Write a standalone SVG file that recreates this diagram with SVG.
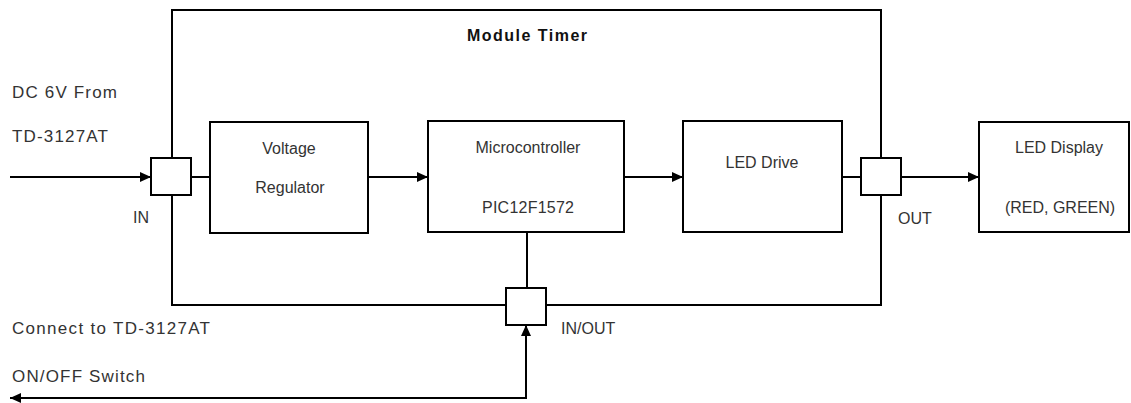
<svg xmlns="http://www.w3.org/2000/svg" width="1131" height="403" viewBox="0 0 1131 403">
<style>
.box{fill:#fff;stroke:#000;stroke-width:2}
.ln{fill:none;stroke:#000;stroke-width:2}
.t{font-family:"Liberation Sans",Arial,sans-serif;font-size:16px;fill:#333}
.l{font-size:17px}
.c{text-anchor:middle}
.b{font-weight:bold;fill:#111;font-size:16px}
</style>
<defs>
<marker id="ah" markerUnits="userSpaceOnUse" markerWidth="12" markerHeight="10" refX="11" refY="5" orient="auto">
<path d="M0,0 L11,5 L0,10 Z" fill="#000"/>
</marker>
</defs>
<rect width="1131" height="403" fill="#fff"/>
<g id="module">
<rect class="box" x="172" y="10" width="709" height="295" fill="none"/>
<text class="t b" x="467" y="41" textLength="120" lengthAdjust="spacing">Module Timer</text>
</g>
<g id="connectors">
<line class="ln" x1="10" y1="177" x2="151" y2="177" marker-end="url(#ah)"/>
<line class="ln" x1="191" y1="177" x2="210" y2="177"/>
<line class="ln" x1="368" y1="177" x2="428" y2="177" marker-end="url(#ah)"/>
<line class="ln" x1="624" y1="177" x2="683" y2="177" marker-end="url(#ah)"/>
<line class="ln" x1="842" y1="177" x2="861" y2="177"/>
<line class="ln" x1="901" y1="177" x2="979" y2="177" marker-end="url(#ah)"/>
<line class="ln" x1="527" y1="232" x2="527" y2="288"/>
<polyline class="ln" points="526,398 526,325" marker-end="url(#ah)"/>
<line class="ln" x1="527" y1="398" x2="10" y2="398" marker-end="url(#ah)"/>
</g>
<g id="in-port">
<rect class="box" x="151" y="158" width="40" height="37"/>
<text class="t" x="133" y="223">IN</text>
</g>
<g id="voltage-regulator">
<rect class="box" x="210" y="122" width="158" height="111"/>
<text class="t c" x="289" y="154">Voltage</text>
<text class="t c" x="290" y="193">Regulator</text>
</g>
<g id="microcontroller">
<rect class="box" x="428" y="121" width="196" height="111"/>
<text class="t c" x="528" y="153">Microcontroller</text>
<text class="t c" x="528" y="213" textLength="92" lengthAdjust="spacing">PIC12F1572</text>
</g>
<g id="led-drive">
<rect class="box" x="683" y="121" width="159" height="111"/>
<text class="t c" x="762" y="168">LED Drive</text>
</g>
<g id="out-port">
<rect class="box" x="861" y="158" width="40" height="37"/>
<text class="t" x="898" y="224">OUT</text>
</g>
<g id="led-display">
<rect class="box" x="979" y="122" width="150" height="110"/>
<text class="t c" x="1059" y="153">LED Display</text>
<text class="t c" x="1060" y="213">(RED, GREEN)</text>
</g>
<g id="inout-port">
<rect class="box" x="506" y="288" width="40" height="37"/>
<text class="t" x="561" y="334">IN/OUT</text>
</g>
<g id="labels">
<text class="t l" x="12" y="98" textLength="105" lengthAdjust="spacing">DC 6V From</text>
<text class="t l" x="12" y="142" textLength="96" lengthAdjust="spacing">TD-3127AT</text>
<text class="t l" x="12" y="334" textLength="198" lengthAdjust="spacing">Connect to TD-3127AT</text>
<text class="t l" x="12" y="382" textLength="133" lengthAdjust="spacing">ON/OFF Switch</text>
</g>
</svg>
